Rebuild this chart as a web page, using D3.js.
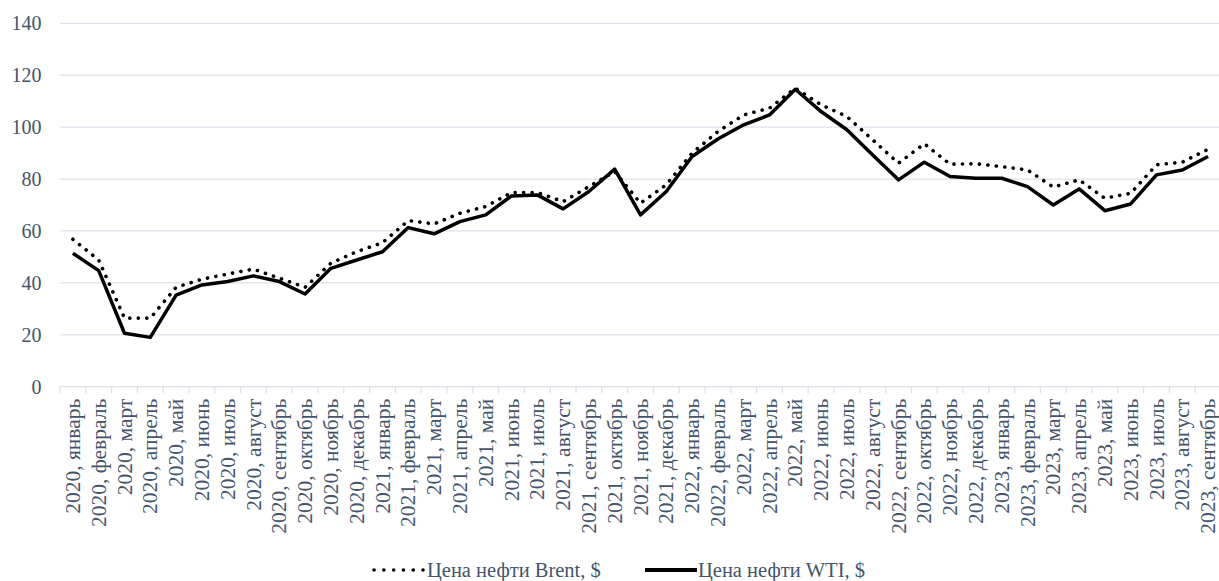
<!DOCTYPE html>
<html>
<head>
<meta charset="utf-8">
<script src="https://cdn.jsdelivr.net/npm/d3@7"></script>
<style>
  html, body { margin: 0; padding: 0; background: #ffffff; }
  svg { display: block; }
  svg text { font-family: "Liberation Serif", "Times New Roman", serif; }
</style>
</head>
<body>
<svg id="chart" width="1219" height="581"></svg>
<script>
const categories = [
  "2020, январь","2020, февраль","2020, март","2020, апрель","2020, май","2020, июнь",
  "2020, июль","2020, август","2020, сентябрь","2020, октябрь","2020, ноябрь","2020, декабрь",
  "2021, январь","2021, февраль","2021, март","2021, апрель","2021, май","2021, июнь",
  "2021, июль","2021, август","2021, сентябрь","2021, октябрь","2021, ноябрь","2021, декабрь",
  "2022, январь","2022, февраль","2022, март","2022, апрель","2022, май","2022, июнь",
  "2022, июль","2022, август","2022, сентябрь","2022, октябрь","2022, ноябрь","2022, декабрь",
  "2023, январь","2023, февраль","2023, март","2023, апрель","2023, май","2023, июнь",
  "2023, июль","2023, август","2023, сентябрь"
];
const brent = [56.8, 48.8, 26.4, 26.4, 38.3, 41.4, 43.4, 45.3, 41.8, 38.3, 47.6, 52.0,
  55.5, 64.0, 62.7, 66.8, 69.4, 74.8, 74.8, 71.3, 77.1, 82.9, 70.7, 77.8,
  90.0, 98.3, 104.7, 107.3, 115.0, 108.6, 104.1, 95.1, 86.1, 93.6, 85.7, 85.9,
  84.8, 83.5, 76.9, 79.7, 72.6, 74.5, 85.5, 86.5, 91.5];
const wti = [51.4, 44.7, 20.6, 19.0, 35.3, 39.2, 40.5, 42.7, 40.5, 35.7, 45.6, 48.8,
  52.0, 61.3, 58.9, 63.6, 66.2, 73.5, 73.9, 68.5, 75.2, 83.8, 66.2, 75.2,
  88.7, 95.4, 100.9, 104.7, 114.6, 106.0, 99.0, 89.3, 79.7, 86.5, 81.0, 80.3,
  80.3, 77.1, 70.0, 76.2, 67.8, 70.4, 81.6, 83.5, 88.7];
const yTicks = [0, 20, 40, 60, 80, 100, 120, 140];
const seriesNames = ["Цена нефти Brent, $", "Цена нефти WTI, $"];

(function () {
const svg = d3.select("#chart");
const textColor = "#44546a";
const gridColor = "#dde1e9";

const mLeft = 60, mRight = 1221, mTop = 23.3, mBottom = 386.7;

const x = d3.scaleBand().domain(categories).range([mLeft, mRight]).paddingInner(0).paddingOuter(0);
const y = d3.scaleLinear().domain([0, 140]).range([mBottom, mTop]);
const cx = d => x(d) + x.bandwidth() / 2;

// gridlines
svg.append("g").selectAll("line").data(yTicks.filter(t => t > 0)).join("line")
  .attr("x1", mLeft).attr("x2", mRight)
  .attr("y1", d => y(d)).attr("y2", d => y(d))
  .attr("stroke", gridColor).attr("stroke-width", 1.2);

// y tick labels
svg.append("g").selectAll("text").data(yTicks).join("text")
  .attr("x", 41.5).attr("y", d => y(d)).attr("dy", "0.35em")
  .attr("text-anchor", "end")
  .attr("font-size", 20).attr("fill", textColor)
  .text(d => d);

// x axis line and ticks
const xAxis = svg.append("g");
xAxis.append("line").attr("x1", mLeft).attr("x2", mRight)
  .attr("y1", mBottom).attr("y2", mBottom)
  .attr("stroke", gridColor).attr("stroke-width", 1.2);
const boundaries = categories.map(c => x(c));
xAxis.selectAll("line.tick").data(boundaries).join("line").attr("class", "tick")
  .attr("x1", d => d).attr("x2", d => d)
  .attr("y1", mBottom).attr("y2", mBottom + 6.5)
  .attr("stroke", gridColor).attr("stroke-width", 1.2);

// x labels, rotated
xAxis.selectAll("text").data(categories).join("text")
  .attr("transform", d => `translate(${cx(d)},${mBottom + 12}) rotate(-90)`)
  .attr("text-anchor", "end").attr("dy", "0.33em")
  .attr("font-size", 21.5).attr("fill", textColor)
  .text(d => d);

// lines
const lineGen = vals => d3.line().x((d, i) => cx(categories[i])).y(d => y(d))(vals);

svg.append("path").attr("d", lineGen(wti))
  .attr("fill", "none").attr("stroke", "#000").attr("stroke-width", 3.5)
  .attr("stroke-linejoin", "round");

svg.append("path").attr("d", lineGen(brent))
  .attr("fill", "none").attr("stroke", "#000").attr("stroke-width", 3.6)
  .attr("stroke-linecap", "round").attr("stroke-dasharray", "0.1 8.4");

// legend
const lg = svg.append("g");
const ly = 570;
lg.append("line").attr("x1", 374).attr("x2", 423).attr("y1", ly).attr("y2", ly)
  .attr("stroke", "#000").attr("stroke-width", 3.6)
  .attr("stroke-linecap", "round").attr("stroke-dasharray", "0.1 9.7");
lg.append("text").attr("x", 427).attr("y", ly).attr("dy", "0.35em")
  .attr("font-size", 20.5).attr("fill", textColor)
  .text(seriesNames[0]);
lg.append("line").attr("x1", 645).attr("x2", 697).attr("y1", ly).attr("y2", ly)
  .attr("stroke", "#000").attr("stroke-width", 4);
lg.append("text").attr("x", 698).attr("y", ly).attr("dy", "0.35em")
  .attr("font-size", 20.5).attr("fill", textColor)
  .text(seriesNames[1]);
})();
</script>
</body>
</html>
